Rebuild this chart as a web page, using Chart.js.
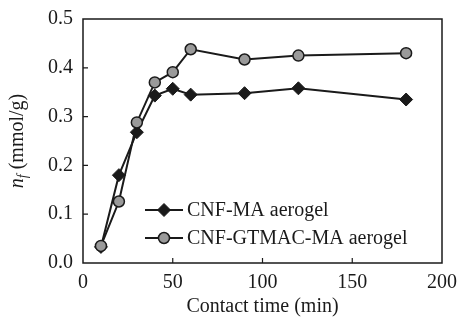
<!DOCTYPE html>
<html lang="en">
  <head>
    <meta charset="utf-8" />
    <title>Contact time vs nf</title>
    <style>
      html, body { margin: 0; padding: 0; background: #fff; }
      .chartBox { width: 459px; height: 323px; }
    </style>
  </head>
  <body>
    <div class="chartBox">
      <canvas id="myChart" width="459" height="323"></canvas>
    </div>
    <script src="https://cdn.jsdelivr.net/npm/chart.js"></script>
    <script>
      // values
      const contactTimes = [10, 20, 30, 40, 50, 60, 90, 120, 180];
      const cnfMA = [0.033, 0.180, 0.268, 0.343, 0.357, 0.345, 0.348, 0.358, 0.335];
      const cnfGtmacMA = [0.035, 0.126, 0.288, 0.370, 0.391, 0.438, 0.417, 0.425, 0.430];
      const seriesNames = ["CNF-MA aerogel", "CNF-GTMAC-MA aerogel"];
      const xTicks = [0, 50, 100, 150, 200];
      const yTicks = [0, 0.1, 0.2, 0.3, 0.4, 0.5];

      const serif = "'Liberation Serif', 'Times New Roman', serif";
      const ink = "#1a1a1a";

      const toPoints = (vals) => vals.map((v, i) => ({ x: contactTimes[i], y: v }));

      const diamondStyle = {
        pointStyle: "rectRot",
        radius: 6.5,
        backgroundColor: ink,
        borderColor: ink,
        borderWidth: 1,
      };
      const circleStyle = {
        pointStyle: "circle",
        radius: 5.5,
        backgroundColor: "#9a9a9a",
        borderColor: ink,
        borderWidth: 1.5,
      };

      // inner ticks, full frame, legend and y title
      const extras = {
        id: "extras",
        afterDraw(chart) {
          const ctx = chart.ctx;
          const a = chart.chartArea;
          const xs = chart.scales.x;
          const ys = chart.scales.y;
          ctx.save();
          ctx.strokeStyle = ink;
          ctx.lineWidth = 1.5;
          ctx.strokeRect(a.left, a.top, a.right - a.left, a.bottom - a.top);
          ctx.lineWidth = 1.2;
          ctx.beginPath();
          xTicks.slice(1, -1).forEach((t) => {
            const px = xs.getPixelForValue(t);
            ctx.moveTo(px, a.bottom);
            ctx.lineTo(px, a.bottom - 5);
          });
          yTicks.slice(1, -1).forEach((t) => {
            const py = ys.getPixelForValue(t);
            ctx.moveTo(a.left, py);
            ctx.lineTo(a.left + 5, py);
          });
          ctx.stroke();

          // legend
          const styles = [diamondStyle, circleStyle];
          const rows = [210, 238];
          ctx.font = "20px " + serif;
          ctx.fillStyle = ink;
          ctx.textBaseline = "middle";
          ctx.textAlign = "left";
          rows.forEach((yy, i) => {
            ctx.strokeStyle = ink;
            ctx.lineWidth = 2;
            ctx.beginPath();
            ctx.moveTo(145, yy);
            ctx.lineTo(183, yy);
            ctx.stroke();
            const s = styles[i];
            ctx.fillStyle = s.backgroundColor;
            ctx.strokeStyle = s.borderColor;
            ctx.lineWidth = s.borderWidth;
            Chart.helpers.drawPoint(ctx, {
              pointStyle: s.pointStyle,
              radius: s.radius,
              borderWidth: s.borderWidth,
              rotation: 0,
            }, 164, yy);
            ctx.fillStyle = ink;
            ctx.fillText(seriesNames[i], 187, yy + 1);
          });

          // y axis title: n_f (mmol/g)
          ctx.translate(18, (a.top + a.bottom) / 2);
          ctx.rotate(-Math.PI / 2);
          ctx.textBaseline = "middle";
          const parts = [
            { t: "n", f: "italic 20px " + serif, dy: 0 },
            { t: "f", f: "italic 14px " + serif, dy: 5 },
            { t: " (mmol/g)", f: "20px " + serif, dy: 0 },
          ];
          let total = 0;
          parts.forEach((p) => { ctx.font = p.f; total += ctx.measureText(p.t).width; });
          let cx = -total / 2;
          parts.forEach((p) => {
            ctx.font = p.f;
            ctx.fillText(p.t, cx, p.dy);
            cx += ctx.measureText(p.t).width;
          });
          ctx.restore();
        },
      };

      const data = {
        datasets: [
          {
            label: seriesNames[0],
            data: toPoints(cnfMA),
            borderColor: ink,
            borderWidth: 2,
            pointStyle: diamondStyle.pointStyle,
            pointRadius: diamondStyle.radius,
            pointBackgroundColor: diamondStyle.backgroundColor,
            pointBorderColor: diamondStyle.borderColor,
            pointBorderWidth: diamondStyle.borderWidth,
            order: 1,
          },
          {
            label: seriesNames[1],
            data: toPoints(cnfGtmacMA),
            borderColor: ink,
            borderWidth: 2,
            pointStyle: circleStyle.pointStyle,
            pointRadius: circleStyle.radius,
            pointBackgroundColor: circleStyle.backgroundColor,
            pointBorderColor: circleStyle.borderColor,
            pointBorderWidth: circleStyle.borderWidth,
            order: 0,
          },
        ],
      };

      const config = {
        type: "line",
        data,
        plugins: [extras],
        options: {
          responsive: false,
          animation: false,
          events: [],
          layout: { padding: { top: 19, right: 17, left: 0, bottom: 0 } },
          plugins: { legend: { display: false }, tooltip: { enabled: false } },
          scales: {
            x: {
              type: "linear",
              min: 0,
              max: 200,
              afterBuildTicks: (s) => { s.ticks = xTicks.map((v) => ({ value: v })); },
              afterFit: (s) => {
                s.height = 60;
                s.paddingLeft = 0;
                s.paddingRight = 0;
              },
              grid: { display: false, drawTicks: false },
              border: { display: false },
              title: {
                display: true,
                text: "Contact time (min)",
                font: { family: serif, size: 20 },
                color: ink,
                padding: { top: 10 },
              },
              ticks: {
                font: { family: serif, size: 20 },
                color: ink,
                padding: 8,
                maxRotation: 0,
              },
            },
            y: {
              min: 0,
              max: 0.5,
              afterBuildTicks: (s) => { s.ticks = yTicks.map((v) => ({ value: v })); },
              afterFit: (s) => {
                s.width = 83;
                s.paddingTop = 0;
                s.paddingBottom = 0;
              },
              grid: { display: false, drawTicks: false },
              border: { display: false },
              ticks: {
                font: { family: serif, size: 20 },
                color: ink,
                padding: 10,
                callback: (v) => Number(v).toFixed(1),
              },
            },
          },
        },
      };

      const myChart = new Chart(document.getElementById("myChart"), config);
    </script>
  </body>
</html>
